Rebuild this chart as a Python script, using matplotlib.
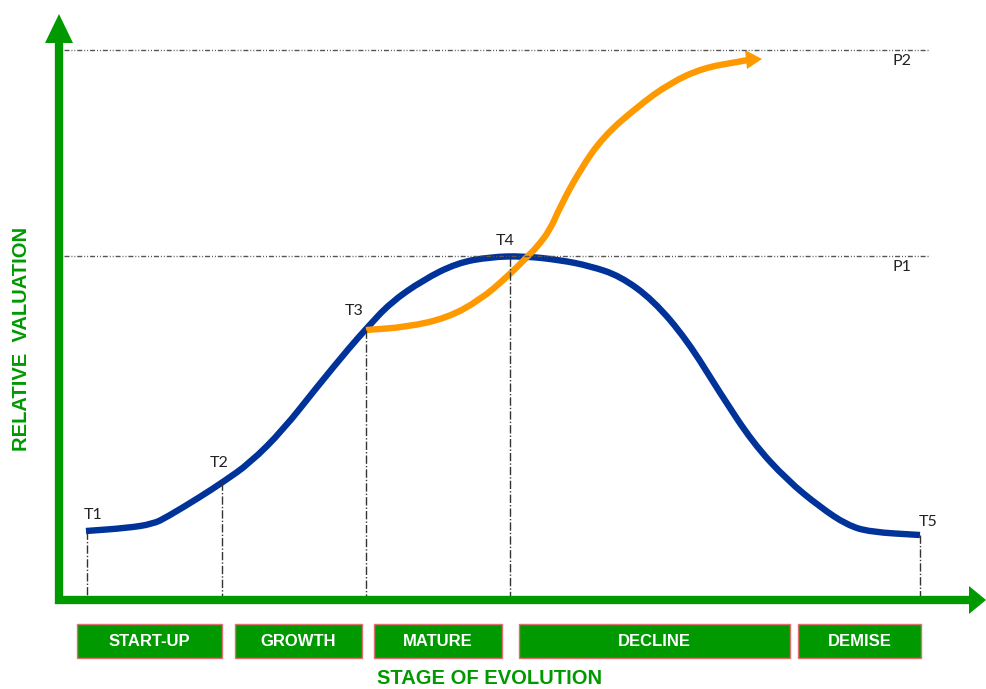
import matplotlib.pyplot as plt
from matplotlib.patches import Rectangle, Polygon, PathPatch
from matplotlib.path import Path

# values, in image pixel units (y grows downward)
blue_x = [86, 127, 153, 167, 200, 223, 250, 283, 317, 350, 366, 390, 423, 457, 490, 523,
          560, 590, 620, 653, 687, 720, 753, 787, 820, 847, 870, 920]
blue_y = [531, 528, 524, 517, 497, 482, 463, 430, 387, 347, 329, 303, 280, 263, 257, 256,
          260, 266, 276, 300, 340, 393, 443, 480, 507, 525, 532, 535]

orange_x = [366, 407, 447, 480, 507, 527, 537, 550, 560, 580, 603, 637, 670, 703, 737, 748]
orange_y = [330, 327, 318, 300, 277, 257, 247, 230, 207, 170, 137, 107, 83, 68, 62, 60]

t_labels = ["T1", "T2", "T3", "T4", "T5"]
t_x = [87, 222, 366, 510, 920]
t_top = [531, 482, 330, 258, 535]

p_labels = ["P2", "P1"]
p_y = [50, 256]

stages = ["START-UP", "GROWTH", "MATURE", "DECLINE", "DEMISE"]
stage_left = [77, 235, 374, 519, 798]
stage_right = [222, 362, 502, 790, 921]

GREEN = "#009900"
BLUE = "#003399"
ORANGE = "#ff9900"


def smooth_path(xs, ys):
    # quadratic curves through midpoints so the line bends smoothly
    pts = list(zip(xs, ys))
    verts = [pts[0]]
    codes = [Path.MOVETO]
    for i in range(1, len(pts) - 1):
        mid = ((pts[i][0] + pts[i + 1][0]) / 2, (pts[i][1] + pts[i + 1][1]) / 2)
        if i == 1:
            verts.append(((pts[0][0] + pts[1][0]) / 2, (pts[0][1] + pts[1][1]) / 2))
            codes.append(Path.LINETO)
        verts += [pts[i], mid]
        codes += [Path.CURVE3, Path.CURVE3]
    verts.append(pts[-1])
    codes.append(Path.LINETO)
    return Path(verts, codes)


fig = plt.figure(figsize=(9.86, 6.89), dpi=100)
ax = fig.add_axes([0, 0, 1, 1])
ax.set_xlim(0, 986)
ax.set_ylim(689, 0)
ax.axis("off")

dashdot2 = (0, (3.6, 1.4, 0.7, 1.4, 0.7, 1.4))

# horizontal reference levels
for lab, y in zip(p_labels, p_y):
    ax.plot([64, 930], [y, y], color="#555555", lw=1, linestyle=dashdot2)
    ax.text(893, y + 11, lab, fontsize=11.5, family="Lato", color="#222222",
            ha="left", va="center")

# drop lines from time points
for lab, x, top in zip(t_labels, t_x, t_top):
    ax.plot([x, x], [top, 600], color="#333333", lw=1, linestyle=(0, (6, 1.5, 1, 1.5)))

ax.add_patch(PathPatch(smooth_path(blue_x, blue_y), facecolor="none", edgecolor=BLUE,
                       lw=4.6, capstyle="butt", joinstyle="round"))
ax.add_patch(PathPatch(smooth_path(orange_x, orange_y), facecolor="none", edgecolor=ORANGE,
                       lw=4.6, capstyle="butt", joinstyle="round"))
ax.add_patch(Polygon([[745, 50], [762, 59], [747, 69]], closed=True, color=ORANGE, lw=0))

t_off = [(6, -16), (-3, -19), (-12, -19), (-5, -17), (8, -13)]
for lab, x, top, (dx, dy) in zip(t_labels, t_x, t_top, t_off):
    ax.text(x + dx, top + dy, lab, fontsize=11.5, family="Lato", color="#222222",
            ha="center", va="center")

# axes arrows
ax.plot([59, 59], [604, 40], color=GREEN, lw=6, solid_capstyle="butt")
ax.add_patch(Polygon([[45, 43], [59, 14], [73, 43]], closed=True, color=GREEN, lw=0))
ax.plot([55, 972], [600, 600], color=GREEN, lw=6, solid_capstyle="butt")
ax.add_patch(Polygon([[969, 586], [986, 600], [969, 614]], closed=True, color=GREEN, lw=0))

# stage boxes
for name, l, r in zip(stages, stage_left, stage_right):
    ax.add_patch(Rectangle((l, 624), r - l, 34, facecolor=GREEN, edgecolor="#e07070", lw=1))
    ax.text((l + r) / 2, 641, name, fontsize=12, family="Liberation Sans",
            fontweight="bold", color="white", ha="center", va="center")

ax.text(490, 679, "STAGE OF EVOLUTION", fontsize=14.5, family="Liberation Sans",
        fontweight="bold", color=GREEN, ha="center", va="center")
ax.text(22, 339, "RELATIVE  VALUATION", fontsize=14.5, family="Liberation Sans",
        fontweight="bold", color=GREEN, ha="center", va="center", rotation=90)

fig.savefig("out.png", dpi=100)
